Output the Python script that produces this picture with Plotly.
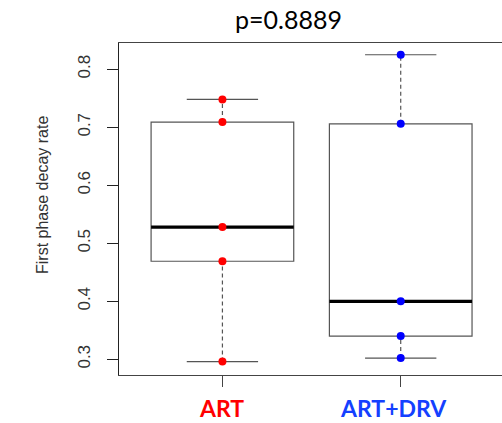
import numpy as np
import plotly.graph_objects as go

# ---- data ----
groups = ["ART", "ART+DRV"]
group_colors = ["#ff0000", "#0000ff"]
label_colors = ["#ff0000", "#1440ff"]
label_shifts = [-1, -7]
art_values = [0.296, 0.469, 0.528, 0.709, 0.748]
artdrv_values = [0.302, 0.340, 0.400, 0.706, 0.825]
series = [art_values, artdrv_values]
y_ticks = [0.3, 0.4, 0.5, 0.6, 0.7, 0.8]
title_text = "p=0.8889"
y_title = "First phase decay rate"

fig = go.Figure()
shapes = []
box_half = 0.4
cap_half = 0.2
edge = "#555555"

for i, (vals, col) in enumerate(zip(series, group_colors)):
    pos = i + 1
    v = np.array(vals)
    q1, med, q3 = np.percentile(v, [25, 50, 75])
    lo, hi = v.min(), v.max()
    # whiskers (dashed)
    shapes.append(dict(type="line", xref="x", yref="y", x0=pos, x1=pos, y0=q3, y1=hi,
                       line=dict(color=edge, width=1.2, dash="4px,3px"), layer="below"))
    shapes.append(dict(type="line", xref="x", yref="y", x0=pos, x1=pos, y0=lo, y1=q1,
                       line=dict(color=edge, width=1.2, dash="4px,3px"), layer="below"))
    # caps
    for yv in (lo, hi):
        shapes.append(dict(type="line", xref="x", yref="y", x0=pos - cap_half, x1=pos + cap_half,
                           y0=yv, y1=yv, line=dict(color=edge, width=1.2), layer="below"))
    # box
    shapes.append(dict(type="rect", xref="x", yref="y", x0=pos - box_half, x1=pos + box_half,
                       y0=q1, y1=q3, line=dict(color=edge, width=1.2), fillcolor="rgba(0,0,0,0)",
                       layer="below"))
    # median
    shapes.append(dict(type="line", xref="x", yref="y", x0=pos - box_half, x1=pos + box_half,
                       y0=med, y1=med, line=dict(color="black", width=3.2), layer="below"))
    fig.add_trace(go.Scatter(x=[pos] * len(vals), y=vals, mode="markers",
                             marker=dict(color=col, size=8, line=dict(width=0)),
                             showlegend=False, hoverinfo="y"))

annotations = [
    dict(text=title_text, xref="paper", yref="paper", x=(288 - 119) / 383, y=(375 - 19) / 332,
         xanchor="center", yanchor="middle", showarrow=False,
         font=dict(family="Lato", size=25, color="black")),
    dict(text=y_title, xref="paper", yref="paper", x=(42 - 119) / 383, y=(375 - 195) / 332,
         xanchor="center", yanchor="middle", textangle=-90, showarrow=False,
         font=dict(family="Liberation Sans, Arial", size=16, color="#333")),
]
for i, (g, c, s) in enumerate(zip(groups, label_colors, label_shifts)):
    annotations.append(dict(text=f"<b>{g}</b>", xref="x", yref="paper", x=i + 1,
                            y=(375 - 408) / 332, xshift=s, xanchor="center", yanchor="middle",
                            showarrow=False, font=dict(family="Lato", size=23, color=c)))

fig.update_layout(
    width=502, height=423,
    margin=dict(l=119, r=0, t=43, b=48),
    plot_bgcolor="white", paper_bgcolor="white",
    shapes=shapes,
    showlegend=False,
    xaxis=dict(range=[0.42, 2.568], tickvals=[1, 2], showticklabels=False, automargin=False,
               ticks="outside", ticklen=11, tickcolor="#444", tickwidth=1.2,
               showline=True, linecolor="#444", linewidth=1.3, mirror=True,
               showgrid=False, zeroline=False),
    yaxis=dict(range=[0.2729, 0.8453], tickvals=y_ticks, tickformat=".1f", automargin=False,
               tickangle=-90, ticks="outside", ticklen=11, tickcolor="#222", tickwidth=1.2,
               showline=True, linecolor="#222", linewidth=1.3, mirror=False,
               showgrid=False, zeroline=False, ticklabelstandoff=10,
               tickfont=dict(family="Liberation Sans, Arial", size=17, color="#333")),
    annotations=annotations,
)

fig.write_html("out.html")
